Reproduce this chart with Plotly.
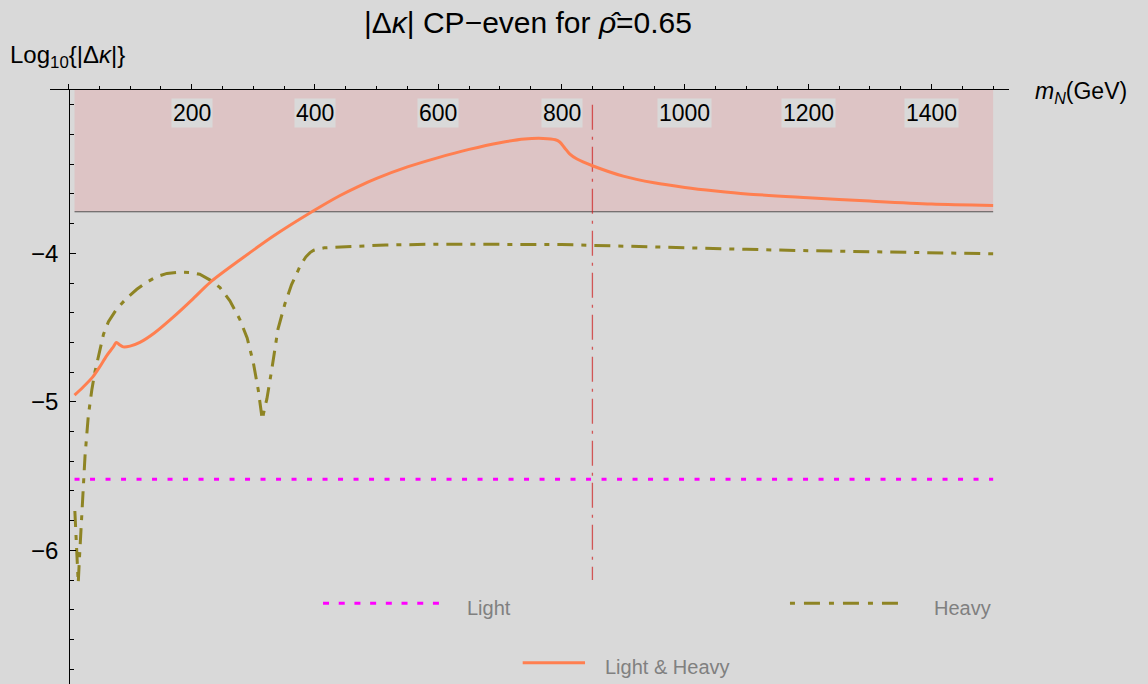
import numpy as np
import plotly.graph_objects as go

# ---------------- data ----------------
mass_lh = [10, 24, 40, 50, 62, 72, 78, 83, 89, 100, 116, 140, 170, 200, 230, 278,
           332, 395, 440, 470, 500, 550, 600, 650, 700, 740, 770, 790, 797, 805, 813,
           825, 850, 900, 950, 1000, 1050, 1100, 1200, 1300, 1400, 1500]
logk_lh = [-4.955, -4.90, -4.83, -4.77, -4.69, -4.635, -4.60, -4.615, -4.63, -4.625,
           -4.60, -4.535, -4.43, -4.315, -4.195, -4.045, -3.885, -3.72, -3.612, -3.55,
           -3.495, -3.418, -3.355, -3.30, -3.255, -3.23, -3.226, -3.235, -3.25, -3.29,
           -3.33, -3.365, -3.41, -3.48, -3.525, -3.556, -3.58, -3.60, -3.625, -3.648,
           -3.668, -3.678]

mass_h = [10.5, 12.5, 14.5, 16, 18, 21.5, 27, 32.3, 34, 38, 43, 50, 57, 65, 78, 95,
          111, 125, 143, 160, 181, 200, 213, 230, 246, 262, 278, 290, 300, 308, 313,
          314.5, 318, 322, 330, 340, 351, 362, 376, 385, 392, 398, 405, 415, 430, 450,
          515, 600, 700, 800, 850, 900, 1000, 1100, 1200, 1300, 1400, 1500]
logk_h = [-5.735, -5.95, -6.15, -6.22, -6.05, -5.746, -5.365, -5.096, -5.04, -4.92,
          -4.80, -4.66, -4.545, -4.46, -4.377, -4.30, -4.242, -4.20, -4.157, -4.135,
          -4.126, -4.13, -4.141, -4.18, -4.231, -4.32, -4.444, -4.57, -4.736, -4.92,
          -5.10, -5.12, -5.05, -4.98, -4.78, -4.51, -4.343, -4.21, -4.085, -4.025,
          -3.995, -3.979, -3.970, -3.963, -3.959, -3.955, -3.944, -3.938, -3.937,
          -3.941, -3.946, -3.952, -3.962, -3.973, -3.982, -3.99, -3.997, -4.003]

mass_light = [10, 1500]
logk_light = [-5.522, -5.522]

bound_mass = [10, 1500]       # excluded band
bound_low = -3.72
bound_high = -2.9

mark_mass = 850               # vertical marker
mark_y = [-3.0, -6.2]

x_ticks = [200, 400, 600, 800, 1000, 1200, 1400]
y_ticks = [-6, -5, -4]
y_ticktext = ["\u22126", "\u22125", "\u22124"]

# ---------------- styling ----------------
BG = "#d9d9d9"
FONT = "Liberation Sans, Arial, sans-serif"
ORANGE = "#ff7f50"
OLIVE = "#8e8424"
MAGENTA = "#ff00ff"

fig = go.Figure()

# excluded band (shaded) and its lower boundary
fig.add_shape(type="rect", xref="x", yref="y", x0=bound_mass[0], x1=bound_mass[1],
              y0=bound_low, y1=bound_high, fillcolor="rgb(221,196,197)",
              line_width=0, layer="below")
fig.add_trace(go.Scatter(x=bound_mass, y=[bound_low, bound_low], mode="lines",
                         line=dict(color="rgba(70,70,70,0.9)", width=1.2),
                         hoverinfo="skip", showlegend=False))

# vertical marker
fig.add_trace(go.Scatter(x=[mark_mass, mark_mass], y=mark_y, mode="lines",
                         line=dict(color="rgba(205,30,30,0.7)", width=1.3,
                                   dash="25px,7px,3px,7px"),
                         hoverinfo="skip", showlegend=False))

# curves
fig.add_trace(go.Scatter(x=mass_light, y=logk_light, mode="lines", name="Light",
                         line=dict(color=MAGENTA, width=3, dash="5px,10.5px"),
                         showlegend=False))
fig.add_trace(go.Scatter(x=mass_h, y=logk_h, mode="lines", name="Heavy",
                         line=dict(color=OLIVE, width=3, dash="16px,8px,5px,8px"),
                         showlegend=False))
fig.add_trace(go.Scatter(x=mass_lh, y=logk_lh, mode="lines", name="Light & Heavy",
                         line=dict(color=ORANGE, width=3, shape="spline", smoothing=0.8),
                         showlegend=False))

# x tick labels with background boxes (inside the frame, below top axis)
for t in x_ticks:
    fig.add_annotation(x=t, y=-3.057, xref="x", yref="y", text=str(t),
                       showarrow=False, bgcolor=BG, borderpad=1,
                       font=dict(family=FONT, size=23, color="black"))

# axis titles
fig.add_annotation(x=-0.0438, y=1.0556, xref="paper", yref="paper", xanchor="left",
                   yanchor="middle", showarrow=False,
                   text="Log<sub>10</sub>{|\u0394<i>\u03ba</i>|}",
                   font=dict(family=FONT, size=24, color="black"))
fig.add_annotation(x=1.025, y=0.995, xref="paper", yref="paper", xanchor="left",
                   yanchor="middle", showarrow=False,
                   text="<i>m</i><sub><i>N</i></sub>(GeV)",
                   font=dict(family=FONT, size=23, color="black"))

# custom legend (paper coordinates)
legend_items = [
    ("Light", MAGENTA, "6px,9.7px", 0.2847, 0.4056, 0.1359, 0.4327, 0.128),
    ("Heavy", OLIVE, "5px,9px,16px,9px", 0.7716, 0.8892, 0.1359, 0.9194, 0.128),
    ("Light & Heavy", ORANGE, "solid", 0.4929, 0.5579, 0.0359, 0.5763, 0.0286),
]
for name, col, dash, lx0, lx1, ly, tx, ty in legend_items:
    fig.add_shape(type="line", xref="paper", yref="paper", x0=lx0, x1=lx1, y0=ly, y1=ly,
                  line=dict(color=col, width=3, dash=dash))
    fig.add_annotation(x=tx, y=ty, xref="paper", yref="paper", xanchor="left",
                       yanchor="middle", showarrow=False, text=name,
                       font=dict(family=FONT, size=20, color="#808080"))

minor_y = [v for v in np.round(np.arange(-6.8, -2.95, 0.2), 2) if v not in y_ticks]

fig.update_layout(
    width=1148, height=684,
    margin=dict(l=50, r=139, t=90, b=0),
    paper_bgcolor=BG, plot_bgcolor=BG,
    showlegend=False,
    title=dict(text="|\u0394<i>\u03ba</i>| CP\u2212even for <i>\u03c1\u0302</i>=0.65",
               x=528 / 1148, y=1 - 22 / 684, xref="container", yref="container",
               xanchor="center", yanchor="middle",
               font=dict(family=FONT, size=30, color="black")),
    xaxis=dict(range=[-29.8, 1525.7], side="top", anchor="y",
               showline=True, linecolor="black", linewidth=1,
               showgrid=False, zeroline=False, showticklabels=False,
               ticks="outside", ticklen=5, tickcolor="black",
               tickmode="linear", tick0=0, dtick=200,
               minor=dict(ticks="outside", ticklen=3, tickcolor="black",
                          tickmode="linear", tick0=0, dtick=50)),
    yaxis=dict(range=[-6.9, -2.9], anchor="free", position=0.0201,
               showline=True, linecolor="black", linewidth=1,
               showgrid=False, zeroline=False,
               ticks="inside", ticklen=6, tickcolor="black",
               tickmode="array", tickvals=y_ticks, ticktext=y_ticktext,
               ticklabelstandoff=6,
               tickfont=dict(family=FONT, size=24, color="black"),
               minor=dict(ticks="inside", ticklen=4, tickcolor="black",
                          tickmode="array", tickvals=minor_y)),
)

fig.write_html("out.html")
